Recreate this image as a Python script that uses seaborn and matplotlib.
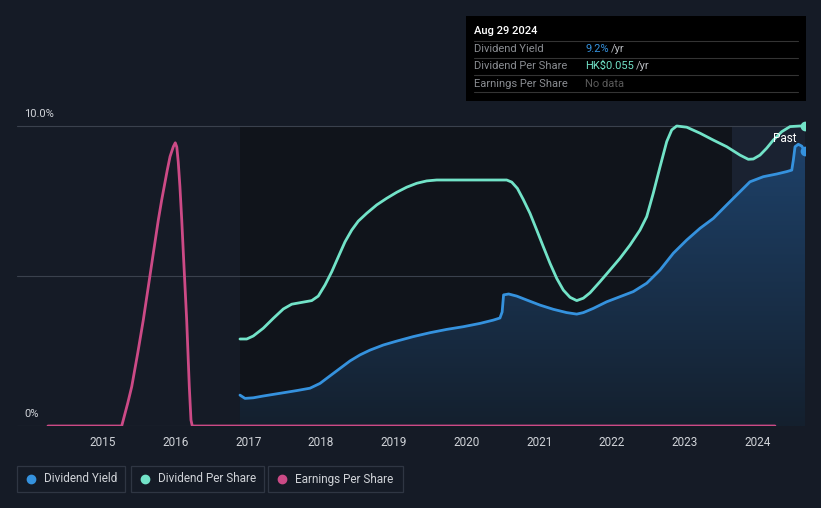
import numpy as np
import pandas as pd
import matplotlib
matplotlib.use("Agg")
import matplotlib.pyplot as plt
from matplotlib.patches import Rectangle
from matplotlib.lines import Line2D
from matplotlib.colors import to_rgb
import seaborn as sns

# ---------------- data ----------------
dy_years = [2016.884, 2016.953, 2017.067, 2017.205, 2017.435, 2017.664, 2017.847, 2017.985,
            2018.122, 2018.260, 2018.398, 2018.535, 2018.673, 2018.856, 2019.040, 2019.268,
            2019.498, 2019.728, 2019.956, 2020.186, 2020.369, 2020.460, 2020.490, 2020.510,
            2020.580, 2020.691, 2020.828, 2021.011, 2021.194, 2021.378, 2021.516, 2021.607,
            2021.744, 2021.928, 2022.111, 2022.294, 2022.479, 2022.662, 2022.845, 2023.029,
            2023.212, 2023.395, 2023.579, 2023.762, 2023.899, 2024.082, 2024.267, 2024.405,
            2024.474, 2024.496, 2024.519, 2024.564, 2024.611, 2024.656]
dy_values = [1.03, 0.92, 0.94, 1.00, 1.09, 1.18, 1.26, 1.42,
             1.67, 1.92, 2.17, 2.37, 2.53, 2.70, 2.83, 2.98,
             3.11, 3.22, 3.31, 3.42, 3.53, 3.60, 3.80, 4.37,
             4.40, 4.33, 4.20, 4.03, 3.89, 3.78, 3.73, 3.78,
             3.92, 4.14, 4.31, 4.48, 4.76, 5.20, 5.76, 6.20,
             6.59, 6.92, 7.37, 7.81, 8.14, 8.31, 8.40, 8.48,
             8.53, 8.87, 9.31, 9.39, 9.33, 9.15]

dps_years = [2016.884, 2016.977, 2017.067, 2017.205, 2017.343, 2017.480, 2017.596, 2017.710,
             2017.871, 2017.961, 2018.054, 2018.146, 2018.237, 2018.329, 2018.421, 2018.512,
             2018.627, 2018.765, 2018.902, 2019.040, 2019.177, 2019.315, 2019.453, 2019.590,
             2020.553, 2020.622, 2020.700, 2020.781, 2020.873, 2020.966, 2021.056, 2021.149,
             2021.241, 2021.332, 2021.424, 2021.516, 2021.607, 2021.699, 2021.836, 2021.974,
             2022.111, 2022.249, 2022.386, 2022.479, 2022.569, 2022.662, 2022.754, 2022.823,
             2022.891, 2023.029, 2023.212, 2023.395, 2023.579, 2023.762, 2023.876, 2023.945,
             2024.037, 2024.129, 2024.220, 2024.336, 2024.450, 2024.587, 2024.656]
dps_values = [2.90, 2.90, 3.00, 3.26, 3.59, 3.90, 4.06, 4.11,
              4.18, 4.33, 4.70, 5.14, 5.64, 6.14, 6.53, 6.83,
              7.09, 7.37, 7.59, 7.79, 7.96, 8.09, 8.17, 8.20,
              8.20, 8.13, 7.92, 7.55, 7.09, 6.53, 5.98, 5.42,
              4.92, 4.53, 4.29, 4.18, 4.26, 4.44, 4.81, 5.20,
              5.59, 6.03, 6.53, 6.98, 7.76, 8.64, 9.48, 9.87,
              10.0, 9.96, 9.76, 9.53, 9.31, 9.03, 8.89, 8.90,
              9.03, 9.26, 9.53, 9.81, 9.98, 10.0, 10.0]

eps_years = [2014.243, 2015.257, 2015.279, 2015.340, 2015.395, 2015.477, 2015.554, 2015.623,
             2015.692, 2015.761, 2015.807, 2015.884, 2015.922, 2015.967, 2015.994, 2016.015,
             2016.035, 2016.058, 2016.083, 2016.105, 2016.151, 2016.187, 2016.210, 2016.228,
             2024.243]
eps_values = [0, 0, 0.20, 0.76, 1.31, 2.42, 3.53, 4.64,
              5.76, 6.87, 7.53, 8.53, 8.98, 9.31, 9.44, 9.30,
              8.80, 7.98, 6.87, 5.76, 3.53, 1.31, 0.20, 0,
              0]

tick_years = [2015, 2016, 2017, 2018, 2019, 2020, 2021, 2022, 2023, 2024]
series_names = ["Dividend Yield", "Dividend Per Share", "Earnings Per Share"]
tooltip_date = "Aug 29 2024"
tooltip_values = ["9.2%", "HK$0.055", "No data"]

# ---------------- style ----------------
BG = "#151b26"
BLUE = "#3592de"
TEAL = "#72e3c8"
PINK = "#cc4a86"
GRID = "#3a414d"

sns.set_theme(style="dark")
plt.rcParams["font.family"] = ["Roboto", "DejaVu Sans"]

W, H = 821, 508
fig = plt.figure(figsize=(W / 100, H / 100), dpi=100, facecolor=BG)

def px(x, y):
    return x / W, 1 - y / H

x_left, x_right = 2013.817, 2024.656
ytop = (426 - 110) / 30.0
ax = fig.add_axes([17 / W, 1 - 426 / H, (805 - 17) / W, (426 - 110) / H])
ax.set_facecolor(BG)
ax.set_xlim(x_left, x_right)
ax.set_ylim(0, ytop)
for s in ax.spines.values():
    s.set_visible(False)
ax.grid(False)

# background bands (only up to the 10% line)
frac = 10 / ytop
ax.axvspan(2016.884, 2023.65, ymax=frac, color="#10141b", zorder=0, lw=0)
ax.axvspan(2023.65, x_right, ymax=frac, color="#1a2231", zorder=0, lw=0)

# grid lines
for yv in (0, 5, 10):
    ax.axhline(yv, color=GRID, lw=0.8, zorder=1)

# gradient fill under dividend yield
poly = ax.fill_between(dy_years, dy_values, 0, color="none", lw=0)
top_c = np.array(to_rgb("#1f4570"))
bot_c = np.array(to_rgb("#14202e"))
t = np.linspace(1, 0, 256)[:, None]
grad = (bot_c + (top_c - bot_c) * t[:, :, None] * np.ones((1, 2, 1)))
im = ax.imshow(grad, extent=[x_left, x_right, 0, ytop], aspect="auto", zorder=2,
               interpolation="bilinear", origin="upper")
im.set_clip_path(poly.get_paths()[0], transform=ax.transData)
ax.set_xlim(x_left, x_right)
ax.set_ylim(0, ytop)

# lines
df_dy = pd.DataFrame({"year": dy_years, "value": dy_values})
df_dps = pd.DataFrame({"year": dps_years, "value": dps_values})
df_eps = pd.DataFrame({"year": eps_years, "value": eps_values})
kw = dict(lw=2.0, estimator=None, solid_joinstyle="round", solid_capstyle="round")
sns.lineplot(data=df_eps, x="year", y="value", ax=ax, color=PINK, zorder=4, **kw)
sns.lineplot(data=df_dps, x="year", y="value", ax=ax, color=TEAL, zorder=5, **kw)
sns.lineplot(data=df_dy, x="year", y="value", ax=ax, color=BLUE, zorder=5, **kw)
ax.plot([dps_years[-1]], [dps_values[-1]], "o", color=TEAL, ms=6, zorder=6)
ax.plot([dy_years[-1]], [dy_values[-1]], "o", color=BLUE, ms=6, zorder=6)

ax.set_xlabel("")
ax.set_ylabel("")
ax.set_yticks([])
ax.set_xticks(tick_years)
ax.set_xticklabels([str(y) for y in tick_years], color="#d0d3d8", fontsize=8.5)
ax.tick_params(axis="x", length=0, pad=7)

# "Past" label
fig.text(*px(785, 138), "Past", color="white", fontsize=8.5, ha="center", va="center")

# y labels
fig.text(*px(24, 114), "10.0%", color="#d0d3d8", fontsize=8, ha="left", va="center")
fig.text(*px(24, 414), "0%", color="#d0d3d8", fontsize=8, ha="left", va="center")

# tooltip
x0, y0, x1, y1 = 466, 16, 806, 101
fig.patches.append(Rectangle(px(x0, y1), (x1 - x0) / W, (y1 - y0) / H,
                             transform=fig.transFigure, facecolor="#000000",
                             edgecolor="none", zorder=10))
fig.text(*px(474, 31), tooltip_date, color="white", fontsize=8, fontweight="medium",
         ha="left", va="center", zorder=11)
for yl in (41, 58, 75, 92):
    fig.add_artist(Line2D([474 / W, 798 / W], [1 - yl / H, 1 - yl / H],
                          color="#343434", lw=0.8, zorder=11))
row_y = [49, 66, 84]
val_colors = [BLUE, TEAL, "#5a5a5a"]
for i, (name, val, vc) in enumerate(zip(series_names, tooltip_values, val_colors)):
    fig.text(*px(474, row_y[i]), name, color="#8a8d92", fontsize=8, ha="left",
             va="center", zorder=11)
    tx = fig.text(*px(585, row_y[i]), val, color=vc, fontsize=8, ha="left",
                  va="center", zorder=11)
    if val != "No data":
        fig.canvas.draw()
        bb = tx.get_window_extent()
        fig.text(bb.x1 / W + 2 / W, 1 - row_y[i] / H, "/yr", color="#b8bbc0",
                 fontsize=8, ha="left", va="center", zorder=11)

# legend boxes
boxes = [(17, 125), (131, 264), (268, 403)]
lcolors = [BLUE, TEAL, PINK]
for (bx0, bx1), name, c in zip(boxes, series_names, lcolors):
    fig.patches.append(Rectangle(px(bx0, 492), (bx1 - bx0) / W, 26 / H,
                                 transform=fig.transFigure, facecolor="none",
                                 edgecolor="#2f3643", lw=0.9))
    fig.add_artist(Line2D([(bx0 + 14) / W], [1 - 479 / H], marker="o", ms=6,
                          color=c, lw=0))
    fig.text(*px(bx0 + 27, 479), name, color="#d0d3d8", fontsize=8.5, ha="left",
             va="center")

fig.savefig("out.png", dpi=100, facecolor=BG)
